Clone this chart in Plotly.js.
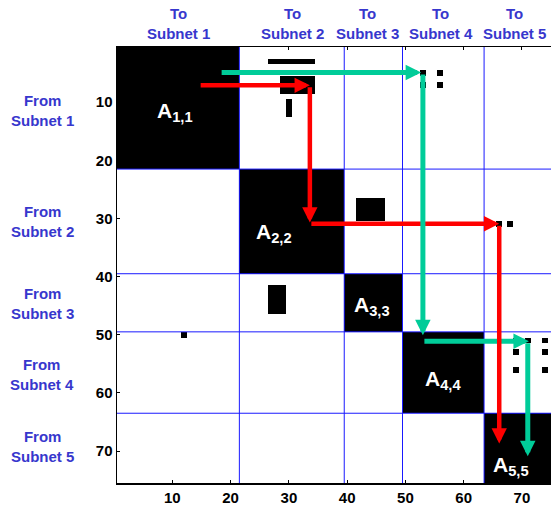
<!DOCTYPE html>
<html>
<head>
<meta charset="utf-8">
<script src="https://cdn.plot.ly/plotly-3.0.1.min.js"></script>
<style>html,body{margin:0;padding:0;overflow:hidden;background:#fff;}</style>
</head>
<body>
<div id="chart"></div>
<script>
// ---- data ----
const N = 75;
const blockStart = [1, 22, 40, 50, 64];
const blockEnd   = [21, 39, 49, 63, 75];
const blockNames = ['A<sub>1,1</sub>', 'A<sub>2,2</sub>', 'A<sub>3,3</sub>', 'A<sub>4,4</sub>', 'A<sub>5,5</sub>'];
const toLabels   = ['To<br>Subnet 1', 'To<br>Subnet 2', 'To<br>Subnet 3', 'To<br>Subnet 4', 'To<br>Subnet 5'];
const fromLabels = ['From<br>Subnet 1', 'From<br>Subnet 2', 'From<br>Subnet 3', 'From<br>Subnet 4', 'From<br>Subnet 5'];
// off-diagonal nonzero rectangles: [rowFrom, rowTo, colFrom, colTo]
const offRowFrom = [3, 6, 10, 5, 7, 5, 7, 27, 31, 31, 42, 50, 51, 51, 51, 53, 53, 56, 56];
const offRowTo   = [3, 8, 12, 5, 7, 5, 7, 30, 31, 31, 46, 50, 51, 51, 51, 53, 53, 56, 56];
const offColFrom = [27, 29, 30, 53, 53, 56, 56, 42, 66, 68, 27, 12, 69, 71, 74, 69, 74, 69, 74];
const offColTo   = [34, 34, 30, 53, 53, 56, 56, 46, 66, 68, 29, 12, 69, 71, 74, 69, 74, 69, 74];
const tickVals = [10, 20, 30, 40, 50, 60, 70];

// arrow segments [x0, y0, x1(tip), y1(tip)] in matrix coordinates
const redSegs = [[14.6, 7.1, 33.6, 7.1], [33.6, 7.1, 33.6, 30.7], [33.6, 30.9, 66.1, 30.9], [66.1, 30.9, 66.1, 68.7]];
const greenSegs = [[18.2, 4.9, 52.7, 4.9], [53.0, 4.9, 53.0, 50.1], [53.0, 51.1, 71.2, 51.1], [71.0, 51.1, 71.0, 70.9]];

// label positions
const blockLabelX = [10.5, 27.5, 44.2, 56.5, 68.1];
const blockLabelY = [11.7, 32.5, 45.0, 57.7, 72.6];
const toLabelX = [11.0, 30.7, 43.5, 56.1, 68.8];
const fromLabelY = [11.5, 30.6, 44.7, 56.8, 69.2];

// ---- build matrix ----
const idx = Array.from({length: N}, (_, i) => i + 1);
const z = idx.map(() => idx.map(() => 0));
function fill(r0, r1, c0, c1) {
  for (let r = r0; r <= r1; r++) for (let c = c0; c <= c1; c++) z[r - 1][c - 1] = 1;
}
blockStart.forEach((s, i) => fill(s, blockEnd[i], s, blockEnd[i]));
offRowFrom.forEach((r, i) => fill(r, offRowTo[i], offColFrom[i], offColTo[i]));

const FONT = 'Liberation Sans, Arial, Helvetica, sans-serif';
const BLUE_TXT = 'rgb(55,55,205)';

const shapes = [];
blockEnd.slice(0, 4).forEach(e => {
  const b = e + 0.5;
  shapes.push({type: 'line', xref: 'x', yref: 'paper', x0: b, x1: b, y0: 0, y1: 1, line: {color: 'rgb(25,25,255)', width: 1}, layer: 'above'});
  shapes.push({type: 'line', xref: 'paper', yref: 'y', x0: 0, x1: 1, y0: b, y1: b, line: {color: 'rgb(25,25,255)', width: 1}, layer: 'above'});
});

const annotations = [];
function arrow(seg, color, w, size) {
  annotations.push({
    x: seg[2], y: seg[3], ax: seg[0], ay: seg[1], xref: 'x', yref: 'y', axref: 'x', ayref: 'y',
    text: ' ', font: {size: 1}, showarrow: true, arrowhead: 2, arrowsize: size, arrowwidth: w,
    arrowcolor: color, standoff: 0, startstandoff: 0
  });
}
const RED = 'rgb(255,0,0)', GREEN = 'rgb(0,204,153)';
arrow(redSegs[0], RED, 4.5, 0.68);
arrow(redSegs[1], RED, 4.5, 0.68);
arrow(redSegs[2], RED, 4.5, 0.68);
arrow(greenSegs[0], GREEN, 5, 0.62);
arrow(greenSegs[1], GREEN, 5, 0.62);
arrow(greenSegs[2], GREEN, 5, 0.62);
arrow(redSegs[3], RED, 4.5, 0.68);
arrow(greenSegs[3], GREEN, 5, 0.62);

blockNames.forEach((t, i) => annotations.push({
  x: blockLabelX[i], y: blockLabelY[i], xref: 'x', yref: 'y', text: t, showarrow: false,
  xanchor: 'center', yanchor: 'middle',
  font: {family: FONT, size: 21, color: 'white', weight: 'bold'}
}));
toLabels.forEach((t, i) => annotations.push({
  x: toLabelX[i], y: 1, xref: 'x', yref: 'paper', xanchor: 'center', yanchor: 'bottom', yshift: 3, text: t, showarrow: false,
  font: {family: FONT, size: 15, color: BLUE_TXT, weight: 'bold'}
}));
fromLabels.forEach((t, i) => annotations.push({
  x: -0.1705, y: fromLabelY[i], xref: 'paper', yref: 'y', xanchor: 'center', yanchor: 'middle', text: t, showarrow: false,
  font: {family: FONT, size: 15, color: BLUE_TXT, weight: 'bold'}
}));

const trace = {
  type: 'heatmap', x: idx, y: idx, z: z, zmin: 0, zmax: 1,
  colorscale: [[0, 'white'], [1, 'black']], showscale: false, hoverinfo: 'skip'
};

const axisCommon = {
  tickvals: tickVals, ticktext: tickVals.map(String), ticks: 'inside', ticklen: 3, tickwidth: 1,
  tickcolor: 'black', showline: true, linecolor: 'black', linewidth: 1.5, mirror: 'ticks',
  showgrid: false, zeroline: false, tickfont: {family: FONT, size: 15, color: 'black', weight: 'bold'}
};

const layout = {
  width: 556, height: 507,
  margin: {l: 117, r: 2, t: 47, b: 24},
  paper_bgcolor: 'white', plot_bgcolor: 'white',
  xaxis: Object.assign({range: [0.5, 75.5]}, axisCommon),
  yaxis: Object.assign({range: [75.5, 0.5]}, axisCommon),
  shapes: shapes, annotations: annotations, showlegend: false
};

Plotly.newPlot('chart', [trace], layout, {displayModeBar: false, staticPlot: true});
</script>
</body>
</html>
